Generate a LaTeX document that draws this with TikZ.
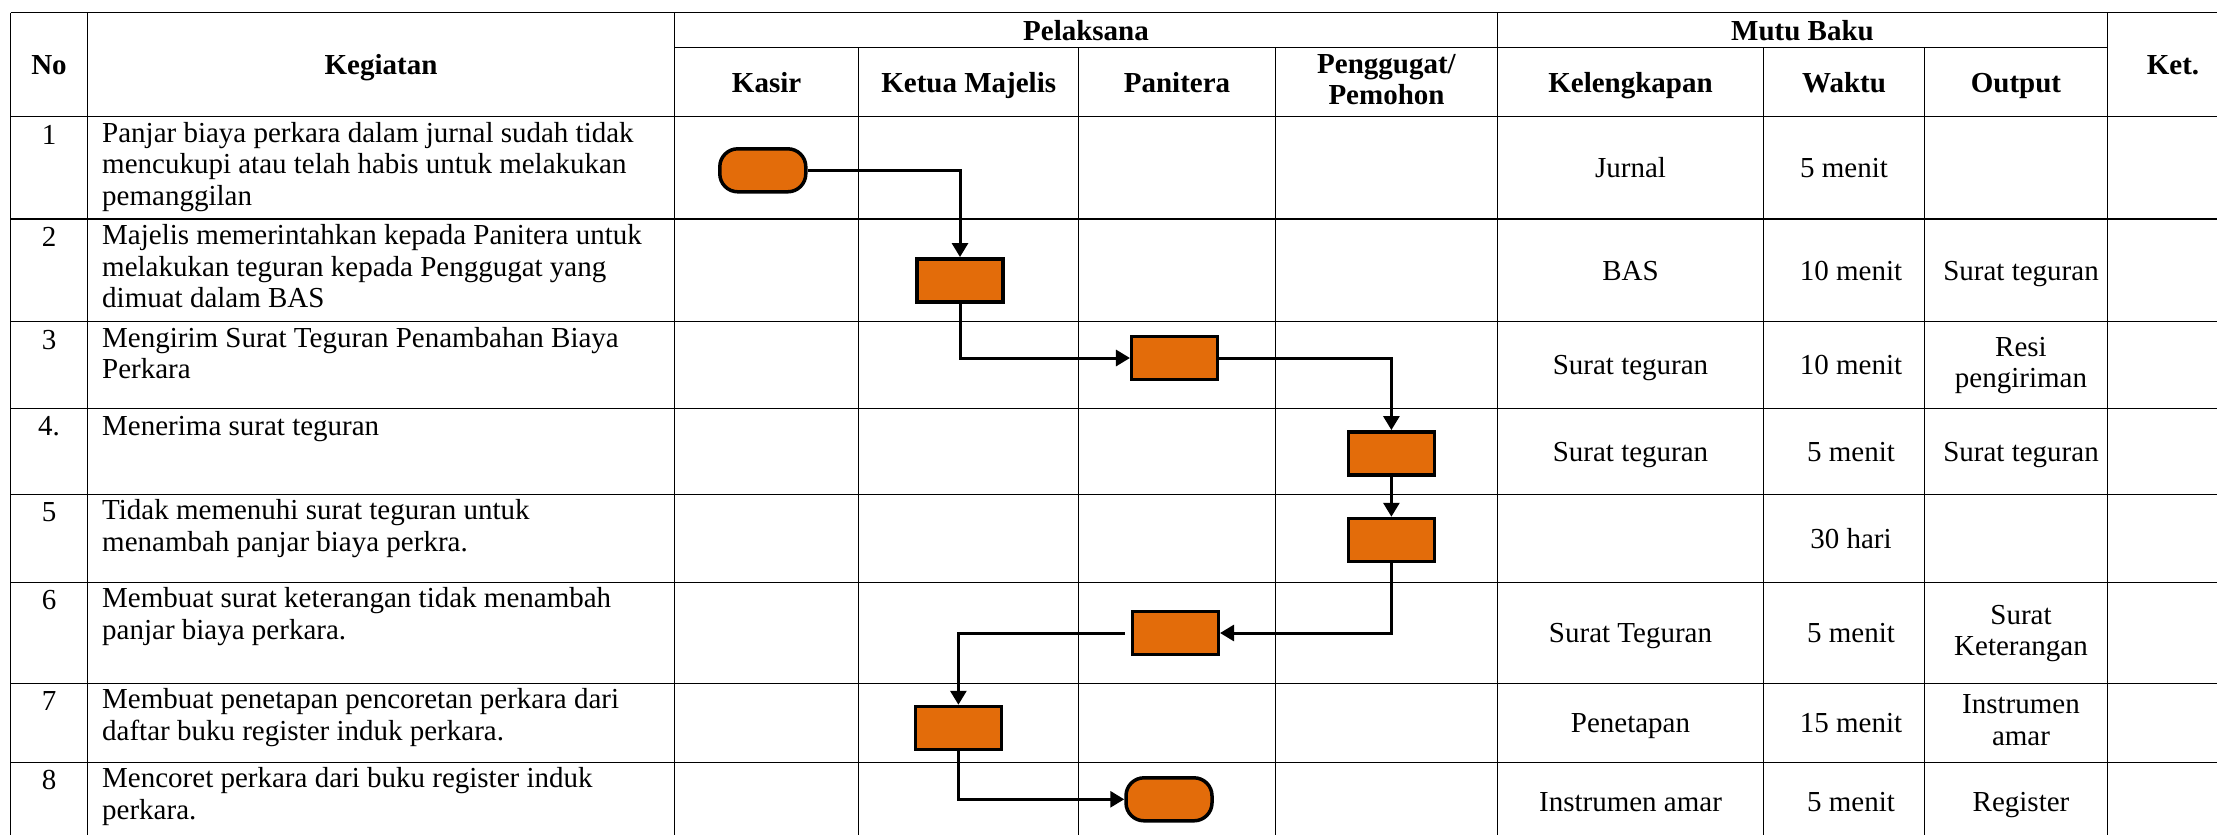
\documentclass[tikz,border=0pt]{standalone}
\usepackage{fontspec}
\setmainfont{Liberation Serif}
\usetikzlibrary{arrows.meta}
\definecolor{boxorange}{HTML}{E36C0A}
\newcommand\txtsize{\fontsize{29}{31.5}\selectfont}
\def\up{22.05}
\begin{document}
\begin{tikzpicture}[x=1pt,y=-1pt,
  grid/.style={line width=1.4pt},
  hdr/.style={font={\txtsize\bfseries}, inner sep=0pt, anchor=north, align=center, execute at begin node=\strut},
  cell/.style={font=\txtsize, inner sep=0pt, anchor=north, align=center, execute at begin node=\strut},
  desc/.style={font=\txtsize, inner sep=0pt, anchor=north west, align=left, execute at begin node=\strut},
  proc/.style={draw, line width=3.5pt, fill=boxorange, minimum width=86pt, minimum height=43pt, inner sep=0pt},
  term/.style={proc, rounded corners=18pt},
  flow/.style={line width=3pt, -{Triangle[length=14pt,width=16pt]}},
]
\clip (0,0) rectangle (2217,835);
\fill[white] (0,0) rectangle (2217,835);
% grid
\foreach \y in {12.7,116.7,219,321.7,408.3,494.3,582.3,683.3,762.3}
  \draw[grid] (10.5,\y) -- (2217,\y);
\draw[grid] (674.5,47.7) -- (2107.5,47.7);
\foreach \x in {10.5,87.5,674.5,1497.5,2107.5}
  \draw[grid] (\x,12.7) -- (\x,835);
\foreach \x in {858.7,1078.6,1275.5,1763.6,1924.6}
  \draw[grid] (\x,47.7) -- (\x,835);
% headers
\node[hdr] (hNo) at (49,74.35-\up) {No};
\node[hdr] (hKeg) at (381,74.35-\up) {Kegiatan};
\node[hdr] (hPel) at (1086,39.9-\up) {Pelaksana};
\node[hdr] (hMutu) at (1802.5,39.9-\up) {Mutu Baku};
\node[hdr] (hKasir) at (766.6,91.9-\up) {Kasir};
\node[hdr] (hKetua) at (968.7,91.9-\up) {Ketua Majelis};
\node[hdr] (hPan) at (1177,91.9-\up) {Panitera};
\node[hdr] (hPeng) at (1386.5,76.1-\up) {Penggugat/\\Pemohon};
\node[hdr] (hKel) at (1630.5,91.9-\up) {Kelengkapan};
\node[hdr] (hWak) at (1844,91.9-\up) {Waktu};
\node[hdr] (hOut) at (2016,91.9-\up) {Output};
\node[hdr] (hKet) at (2173,74.35-\up) {Ket.};
% numbers
\node[cell] (n1) at (49,144-\up) {1};
\node[cell] (n2) at (49,246.3-\up) {2};
\node[cell] (n3) at (49,349-\up) {3};
\node[cell] (n4) at (49,435.6-\up) {4.};
\node[cell] (n5) at (49,521.6-\up) {5};
\node[cell] (n6) at (49,609.6-\up) {6};
\node[cell] (n7) at (49,710.6-\up) {7};
\node[cell] (n8) at (49,789.6-\up) {8};
% activities
\node[desc] (k1) at (102,144-\up) {Panjar biaya perkara dalam jurnal sudah tidak\\mencukupi atau telah habis untuk melakukan\\pemanggilan};
\node[desc] (k2) at (102,246.3-\up) {Majelis memerintahkan kepada Panitera untuk\\melakukan teguran kepada Penggugat yang\\dimuat dalam BAS};
\node[desc] (k3) at (102,349-\up) {Mengirim Surat Teguran Penambahan Biaya\\Perkara};
\node[desc] (k4) at (102,435.6-\up) {Menerima surat teguran};
\node[desc] (k5) at (102,521.6-\up) {Tidak memenuhi surat teguran untuk\\menambah panjar biaya perkra.};
\node[desc] (k6) at (102,609.6-\up) {Membuat surat keterangan tidak menambah\\panjar biaya perkara.};
\node[desc] (k7) at (102,710.6-\up) {Membuat penetapan pencoretan perkara dari\\daftar buku register induk perkara.};
\node[desc] (k8) at (102,789.6-\up) {Mencoret perkara dari buku register induk\\perkara.};
% kelengkapan
\node[cell] (l1) at (1630.5,177.5-\up) {Jurnal};
\node[cell] (l2) at (1630.5,280-\up) {BAS};
\node[cell] (l3) at (1630.5,374.65-\up) {Surat teguran};
\node[cell] (l4) at (1630.5,460.95-\up) {Surat teguran};
\node[cell] (l6) at (1630.5,642.45-\up) {Surat Teguran};
\node[cell] (l7) at (1630.5,732.45-\up) {Penetapan};
\node[cell] (l8) at (1630.5,811-\up) {Instrumen amar};
% waktu
\node[cell] (w1) at (1844,177.5-\up) {5 menit};
\node[cell] (w2) at (1851,280-\up) {10 menit};
\node[cell] (w3) at (1851,374.65-\up) {10 menit};
\node[cell] (w4) at (1851,460.95-\up) {5 menit};
\node[cell] (w5) at (1851,547.95-\up) {30 hari};
\node[cell] (w6) at (1851,642.45-\up) {5 menit};
\node[cell] (w7) at (1851,732.45-\up) {15 menit};
\node[cell] (w8) at (1851,811-\up) {5 menit};
% output
\node[cell] (o2) at (2021,280-\up) {Surat teguran};
\node[cell] (o3) at (2021,358.9-\up) {Resi\\pengiriman};
\node[cell] (o4) at (2021,460.95-\up) {Surat teguran};
\node[cell] (o6) at (2021,626.7-\up) {Surat\\Keterangan};
\node[cell] (o7) at (2021,716.7-\up) {Instrumen\\amar};
\node[cell] (o8) at (2021,811-\up) {Register};
% flow shapes
\node[term] (t1) at (762.8,170.3) {};
\node[proc] (b2) at (960,280.3) {};
\node[proc] (b3) at (1174.7,358) {};
\node[proc] (b4) at (1391.4,453.3) {};
\node[proc] (b5) at (1391.4,540) {};
\node[proc] (b6) at (1175.3,633) {};
\node[proc] (b7) at (958.4,728) {};
\node[term] (t8) at (1169,799.3) {};
% connectors
\draw[flow] (t1.east) -| (b2.north);
\draw[flow] (b2.south) |- (b3.west);
\draw[flow] (b3.east) -| (b4.north);
\draw[flow] (b4.south) -- (b5.north);
\draw[flow] (b5.south) |- (b6.east);
\draw[flow, shorten <=6pt] (b6.west) -| (b7.north);
\draw[flow] (b7.south) |- (t8.west);
\end{tikzpicture}
\end{document}
